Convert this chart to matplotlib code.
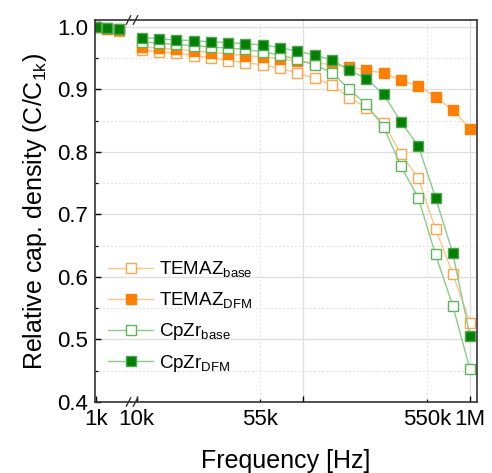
import matplotlib
matplotlib.use("Agg")
import matplotlib.pyplot as plt
from matplotlib.lines import Line2D
from matplotlib.ticker import FixedLocator, FixedFormatter, MultipleLocator

plt.rcParams['font.family'] = ['Liberation Sans', 'DejaVu Sans']

# ---------------- data ----------------
freq_low = [1000, 1269, 1610]
freq_high = [10755, 13654, 17334, 22005, 27925, 35440, 44990, 57110, 72490, 92040,
             116850, 148350, 188300, 239000, 303400, 385100, 488900, 620700, 787800, 1000000]

temaz_base_low = [1.0, 0.997, 0.994]
temaz_dfm_low = [1.0, 0.997, 0.995]
cpzr_base_low = [1.0, 0.998, 0.996]
cpzr_dfm_low = [1.0, 0.998, 0.996]

temaz_base = [0.963, 0.960, 0.958, 0.954, 0.951, 0.946, 0.943, 0.939, 0.934, 0.926,
              0.918, 0.907, 0.887, 0.871, 0.846, 0.797, 0.758, 0.677, 0.605, 0.527]
temaz_dfm = [0.968, 0.966, 0.964, 0.962, 0.959, 0.957, 0.954, 0.952, 0.949, 0.945,
             0.942, 0.940, 0.936, 0.931, 0.926, 0.915, 0.906, 0.888, 0.867, 0.837]
cpzr_base = [0.976, 0.974, 0.972, 0.970, 0.968, 0.966, 0.964, 0.960, 0.955, 0.948,
             0.939, 0.927, 0.900, 0.876, 0.840, 0.777, 0.727, 0.636, 0.554, 0.452]
cpzr_dfm = [0.983, 0.981, 0.979, 0.978, 0.976, 0.975, 0.973, 0.971, 0.967, 0.961,
            0.955, 0.947, 0.931, 0.917, 0.892, 0.848, 0.810, 0.727, 0.638, 0.505]

labels = [r'TEMAZ$_\mathregular{base}$', r'TEMAZ$_\mathregular{DFM}$',
          r'CpZr$_\mathregular{base}$', r'CpZr$_\mathregular{DFM}$']

x_major = [1e4, 1e5, 1e6]
x_major_labels = ['10k', '', '1M']
x_minor = [55e3, 550e3]
x_minor_labels = ['55k', '550k']

# ---------------- styles ----------------
styles = [
    dict(color='#FFC48A', marker='s', mfc='white', mec='#FFA64D'),
    dict(color='#FFC48A', marker='s', mfc='#FF7F00', mec='#FF7F00'),
    dict(color='#8CCB8C', marker='s', mfc='white', mec='#5BB55B'),
    dict(color='#8CCB8C', marker='s', mfc='#007F00', mec='#4DA64D'),
]

W, H = 492, 473
fig = plt.figure(figsize=(W / 100, H / 100), dpi=100)

L, B_, R, T = 95, 402, 477, 20
XB = 131
axl = fig.add_axes([L / W, 1 - B_ / H, (XB - L) / W, (B_ - T) / H])
axr = fig.add_axes([XB / W, 1 - B_ / H, (R - XB) / W, (B_ - T) / H])

low_series = [temaz_base_low, temaz_dfm_low, cpzr_base_low, cpzr_dfm_low]
high_series = [temaz_base, temaz_dfm, cpzr_base, cpzr_dfm]

handles = []
for ys_l, ys_h, st, lab in zip(low_series, high_series, styles, labels):
    axl.plot(freq_low, ys_l, lw=1.0, ms=6.5, mew=1.0, **st)
    h, = axr.plot(freq_high, ys_h, lw=1.0, ms=6.5, mew=1.0, label=lab, **st)
    handles.append(h)

for ax in (axl, axr):
    ax.set_xscale('log')
    ax.set_ylim(0.4, 1.011)
    ax.yaxis.set_major_locator(MultipleLocator(0.1))
    ax.yaxis.set_minor_locator(MultipleLocator(0.05))
    ax.grid(True, which='major', axis='y', color='#dedede', lw=0.9, ls='-')
    ax.grid(True, which='minor', axis='y', color='#dedede', lw=0.8, ls=(0, (1.5, 2)))
    ax.set_axisbelow(True)
    for sp in ax.spines.values():
        sp.set_color('#333333')
        sp.set_linewidth(1.2)

axl.set_xlim(979.5, 2066)
axr.set_xlim(9256, 1.101e6)

axl.spines['right'].set_visible(False)
axr.spines['left'].set_visible(False)

axl.xaxis.set_major_locator(FixedLocator([1000]))
axl.xaxis.set_major_formatter(FixedFormatter(['1k']))
axl.xaxis.set_minor_locator(FixedLocator([]))
axl.tick_params(axis='both', which='major', direction='in', length=4, width=1,
                labelsize=16, pad=5, top=False, right=False)
axl.tick_params(axis='y', which='minor', direction='in', length=2.5, width=0.9, right=False)
axl.yaxis.set_major_formatter(plt.FuncFormatter(lambda v, p: f'{v:.1f}'))

axr.xaxis.set_major_locator(FixedLocator(x_major))
axr.xaxis.set_major_formatter(FixedFormatter(x_major_labels))
axr.xaxis.set_minor_locator(FixedLocator(x_minor))
axr.xaxis.set_minor_formatter(FixedFormatter(x_minor_labels))
axr.tick_params(axis='x', which='major', direction='in', length=4, width=1, labelsize=16, pad=5)
axr.tick_params(axis='x', which='minor', direction='in', length=2.5, width=0.9, labelsize=16, pad=5)
axr.tick_params(axis='y', which='both', left=False, right=False, labelleft=False)
axr.grid(True, which='major', axis='x', color='#dedede', lw=0.9, ls='-')
axr.grid(True, which='minor', axis='x', color='#dedede', lw=0.8, ls=(0, (1.5, 2)))
axr.xaxis.get_gridlines()[0].set_visible(False)

axl.set_ylabel(r'Relative cap. density (C/C$_\mathregular{1k}$)', fontsize=18, labelpad=6)
fig.text((L + R) / 2 / W, 1 - 461 / H, 'Frequency [Hz]', fontsize=18, ha='center', va='center')

# break marks
for yb in (T, B_):
    for xc in (128.5, 135.5):
        fig.add_artist(Line2D([(xc - 2.2) / W, (xc + 2.2) / W],
                              [1 - (yb + 4.2) / H, 1 - (yb - 4.2) / H],
                              transform=fig.transFigure, color='#333333', lw=1.0))

fig.legend(handles=handles, labels=labels, loc='upper left',
           bbox_to_anchor=(108 / W, 1 - 260 / H), frameon=False, fontsize=13.5,
           handlelength=2.4, handletextpad=0.3, labelspacing=0.55, borderpad=0,
           borderaxespad=0)

fig.savefig('out.png', dpi=100)
